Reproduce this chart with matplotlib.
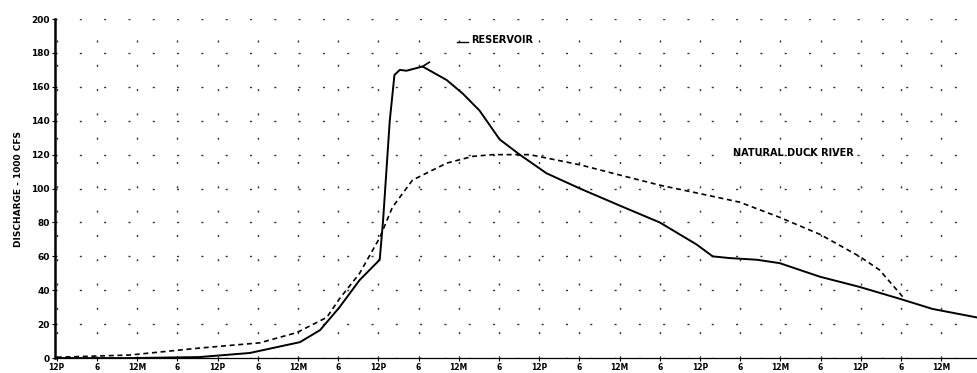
"""Duck River flood hydrograph: reservoir vs natural discharge"""
import numpy as np
from matplotlib import pyplot as plt

# hours from the first 12 noon mark, discharge in 1000 cfs
reservoir_hours = [0, 10.9, 21.3, 28.8, 36.3, 39.3, 42.2, 45.2, 48.2, 48.7, 49.7, 50.4,
                   51.2, 52.2, 54.6, 58.2, 60.6, 63.1, 66.1, 69.1, 73.1, 78.1, 84.0,
                   90.0, 95.5, 97.9, 100.4, 104.5, 107.9, 113.9, 119.8, 125.8, 130.7, 137.3]
reservoir_flow = [0, 0, 0.6, 3, 9.4, 16.5, 30, 46, 58, 81, 140, 167,
                  170, 169.5, 172, 164, 156, 146, 129, 120, 109, 100, 90,
                  80, 67, 60, 59, 58, 56, 48, 42, 35, 29, 24]

natural_hours = [0, 10.9, 21.3, 30.3, 35.8, 40.3, 42.2, 45.2, 48.2, 50.1, 53.1, 58.2,
                 62.1, 65.1, 70.6, 78.1, 84.0, 90.0, 96.0, 101.9, 107.9, 113.9,
                 119.8, 122.8, 126.3]
natural_flow = [0.5, 1.8, 5.9, 9, 15, 24, 35, 50, 71, 89, 105, 115,
                119, 120, 120, 114, 108, 102, 97, 92, 83, 73,
                60, 52, 36]

tick_hours = np.arange(0, 133, 6)
tick_names = ['12P', '6', '12M', '6']
y_ticks = [0, 20, 40, 60, 80, 100, 120, 140, 160, 180, 200]

font = dict(family='DejaVu Sans', weight='bold')

fig = plt.figure(figsize=(9.78, 3.73), dpi=100)
ax = fig.add_axes([0.056, 0.040, 0.944, 0.909])

ax.plot(reservoir_hours, reservoir_flow, color='black', lw=1.4)
ax.plot(natural_hours, natural_flow, color='black', lw=1.2, linestyle=(0, (3, 2.2)))

ax.set_xlim(-0.3, 137.5)
ax.set_ylim(0, 200)
ax.set_xticks(tick_hours)
ax.set_xticklabels([tick_names[i % 4] for i in range(len(tick_hours))], fontsize=5.5, **font)
ax.set_yticks(y_ticks)
ax.set_yticklabels([str(v) for v in y_ticks], fontsize=6.5, **font)
ax.tick_params(axis='both', length=2, width=0.8, pad=1.5)
ax.set_ylabel('DISCHARGE - 1000 CFS', fontsize=6.5, labelpad=6, **font)

# sparse dotted grid, like the scanned graph paper
ax.grid(True, color='black', linestyle=(0, (1.5, 16)), lw=1.0, alpha=0.8)
for side in ['top', 'right']:
    ax.spines[side].set_visible(False)
ax.spines['left'].set_linewidth(1.8)
ax.spines['bottom'].set_linewidth(0.9)

ax.text(61.8, 187.5, 'RESERVOIR', fontsize=7, va='center', **font)
ax.plot([59.8, 61.4], [186.5, 186.5], color='black', lw=1)
ax.plot([54.6, 55.6], [172, 174.5], color='black', lw=1.2)
ax.text(101, 121, 'NATURAL DUCK RIVER', fontsize=7, va='center', **font)

plt.savefig('out.png', dpi=100)
